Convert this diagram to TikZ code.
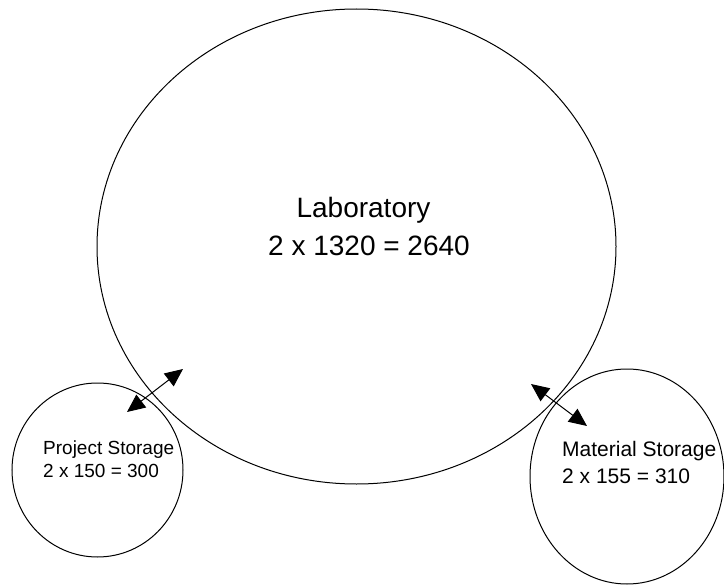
\documentclass[tikz,border=0pt]{standalone}
\usepackage{fontspec}
\setmainfont{Liberation Sans}
\usetikzlibrary{shapes.geometric,arrows.meta}
\begin{document}
\begin{tikzpicture}[x=1pt,y=-1pt,
  room/.style={draw,line width=1pt,ellipse,inner sep=0pt},
  bigtxt/.style={font=\fontsize{28}{32}\selectfont,anchor=base,inner sep=0pt},
  projtxt/.style={font=\fontsize{19}{23}\selectfont,anchor=base west,inner sep=0pt},
  mattxt/.style={font=\fontsize{21}{25}\selectfont,anchor=base west,inner sep=0pt},
  link/.style={line width=1pt,{Triangle[length=18pt,width=16pt]}-{Triangle[length=18pt,width=16pt]}}]
\useasboundingbox (0,0) rectangle (724,586);
\node[room,minimum width=519pt,minimum height=475pt] (lab) at (356.5,246.5) {};
\node[room,minimum width=171pt,minimum height=174pt] (proj) at (97.5,470) {};
\node[room,minimum width=194pt,minimum height=215pt] (mat) at (627,476.5) {};
\node[bigtxt] (labt1) at (363.5,217) {Laboratory};
\node[bigtxt] (labt2) at (369,255) {2 x 1320 = 2640};
\node[projtxt] (pt1) at (43,454) {Project Storage};
\node[projtxt] (pt2) at (43,477) {2 x 150 = 300};
\node[mattxt] (mt1) at (562,456) {Material Storage};
\node[mattxt] (mt2) at (562,483) {2 x 155 = 310};
\coordinate (pa) at (127,412);
\coordinate (pb) at (183,369);
\coordinate (ma) at (531,384);
\coordinate (mb) at (587,426);
\draw[link] (pa) -- (pb);
\draw[link] (ma) -- (mb);
\end{tikzpicture}
\end{document}
